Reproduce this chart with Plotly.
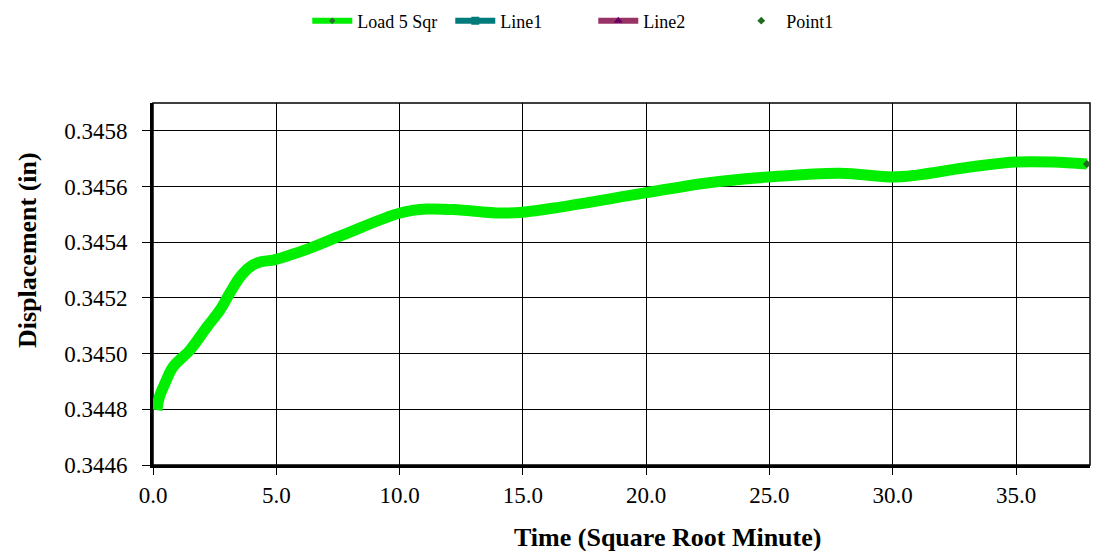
import plotly.graph_objects as go

# Data
time_sqrt = [0.16, 0.22, 0.28, 0.49, 0.81, 1.5, 2.19, 2.72, 3.12, 3.53, 3.93, 4.34,
             4.87, 5.56, 6.37, 7.70, 10.02, 11.11, 12.45, 14.07, 15.0, 16.5, 19.95,
             22.47, 24.94, 27.86, 29.97, 30.98, 33.13, 34.96, 36.5, 37.87]
displacement = [0.344797, 0.344830, 0.344850, 0.344894, 0.344952, 0.345013, 0.345096,
                0.345157, 0.345218, 0.345275, 0.345311, 0.345329, 0.345336, 0.345354,
                0.345379, 0.345426, 0.345505, 0.345519, 0.345516, 0.345505, 0.345508,
                0.345526, 0.345577, 0.345613, 0.345634, 0.345648, 0.345634, 0.345641,
                0.345670, 0.345688, 0.345688, 0.345681]
point1_x = [37.87]
point1_y = [0.345681]

x_ticks = [0, 5, 10, 15, 20, 25, 30, 35]
x_tick_labels = ["0.0", "5.0", "10.0", "15.0", "20.0", "25.0", "30.0", "35.0"]
y_ticks = [0.3446, 0.3448, 0.3450, 0.3452, 0.3454, 0.3456, 0.3458]
y_tick_labels = ["0.3446", "0.3448", "0.3450", "0.3452", "0.3454", "0.3456", "0.3458"]

GREEN = "rgb(0,238,0)"
SERIF = "Liberation Serif, Times New Roman, serif"

fig = go.Figure()

# legend-only entries
fig.add_trace(go.Scatter(x=[None], y=[None], mode="lines+markers", name="Load 5 Sqr",
                         line=dict(color=GREEN, width=6),
                         marker=dict(symbol="diamond", size=5, color="#2f6b2f")))
fig.add_trace(go.Scatter(x=[None], y=[None], mode="lines+markers", name="Line1",
                         line=dict(color="#007b7b", width=6),
                         marker=dict(symbol="square", size=8, color="#007b7b")))
fig.add_trace(go.Scatter(x=[None], y=[None], mode="lines+markers", name="Line2",
                         line=dict(color="#993366", width=6),
                         marker=dict(symbol="triangle-up", size=8, color="#660066")))
fig.add_trace(go.Scatter(x=point1_x, y=point1_y, mode="markers", name="Point1",
                         marker=dict(symbol="diamond", size=6, color="#1f6b1f")))

# main curve
fig.add_trace(go.Scatter(x=time_sqrt, y=displacement, mode="lines", name="Load 5 Sqr",
                         showlegend=False, line=dict(color=GREEN, width=11, shape="spline",
                                                     smoothing=1.0)))
# put Point1 marker on top
fig.add_trace(go.Scatter(x=point1_x, y=point1_y, mode="markers", showlegend=False,
                         marker=dict(symbol="diamond", size=6, color="#1f6b1f")))

fig.update_layout(
    width=1111, height=551,
    margin=dict(l=153, r=21, t=103, b=86),
    paper_bgcolor="white", plot_bgcolor="white",
    font=dict(family=SERIF, color="black"),
    showlegend=True,
    legend=dict(orientation="h", xref="container", yref="container",
                x=0.534, y=0.962, xanchor="center", yanchor="middle",
                font=dict(family=SERIF, size=18, color="black"),
                itemwidth=40, entrywidth=88, entrywidthmode="pixels",
                tracegroupgap=0, bgcolor="rgba(0,0,0,0)"),
    shapes=[dict(type="rect", xref="paper", yref="paper", x0=0, y0=0, x1=1, y1=1,
                 line=dict(color="black", width=1.5), layer="below")],
    annotations=[
        dict(text="<b>Displacement (in)</b>", xref="paper", yref="paper",
             x=(27 - 153) / 937, y=(465 - 250) / 362, textangle=-90, showarrow=False,
             xanchor="center", yanchor="middle",
             font=dict(family=SERIF, size=26, color="black")),
        dict(text="<b>Time (Square Root Minute)</b>", xref="paper", yref="paper",
             x=(667 - 153) / 937, y=(465 - 537) / 362, showarrow=False,
             xanchor="center", yanchor="middle",
             font=dict(family=SERIF, size=26, color="black")),
    ],
)

fig.update_xaxes(range=[0, 38], tickvals=x_ticks, ticktext=x_tick_labels,
                 showgrid=True, gridcolor="black", gridwidth=1,
                 showline=True, linecolor="black", linewidth=3,
                 ticks="outside", ticklen=7, tickcolor="black", tickwidth=1,
                 tickfont=dict(family=SERIF, size=23, color="black"), zeroline=False)
fig.update_yaxes(range=[0.3446, 0.3459], tickvals=y_ticks, ticktext=y_tick_labels,
                 showgrid=True, gridcolor="black", gridwidth=1,
                 showline=True, linecolor="black", linewidth=3,
                 ticks="outside", ticklen=8, tickcolor="black", tickwidth=1,
                 ticklabelstandoff=10,
                 tickfont=dict(family=SERIF, size=23, color="black"), zeroline=False)

fig.write_html("out.html")
